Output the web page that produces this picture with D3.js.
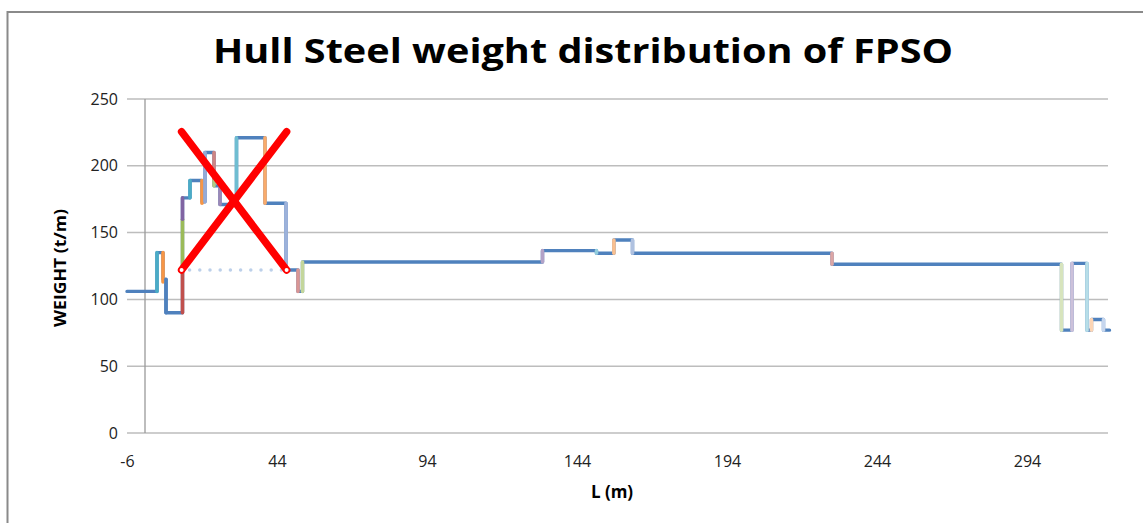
<!DOCTYPE html>
<html>
<head>
<meta charset="utf-8">
<script src="https://cdn.jsdelivr.net/npm/d3@7/dist/d3.min.js"></script>
<style>
  html, body { margin: 0; padding: 0; background: #fff; }
  svg { display: block; }
  text { font-family: "Open Sans", "DejaVu Sans", sans-serif; }
</style>
</head>
<body>
<svg id="chart" width="1143" height="523"></svg>
<script>
// Hull steel weight profile: breakpoints along the length (m) and the weight (t/m)
// that applies from each breakpoint up to the next one.
const stationL = [-6, 4, 6, 7, 12.5, 15, 19, 20, 23, 25, 30.5, 40, 47, 51, 52.5,
                  132.5, 150.5, 156.3, 162.5, 229, 305.5, 309, 314, 315.5, 319.5, 321.5];
const stationW = [106, 135, 115, 90, 176, 189, 173, 210, 185, 171, 221, 172, 122, 106, 128,
                  136.5, 134.5, 144.5, 134.5, 126.3, 77, 127, 77, 85, 77];

// Vertical jumps between blocks, each plotted as its own series
const riseL    = [4, 6, 7, 12.5, 12.5, 12.5, 15, 19, 20, 23, 23, 25, 30.5, 40, 47, 51, 52.5,
                  132.5, 150.5, 156.3, 162.5, 229, 305.5, 309, 314, 315.5, 319.5];
const riseFrom = [106, 135, 115, 90, 121, 160, 176, 189, 173, 210, 189, 185, 171, 221, 172, 122, 106,
                  128, 136.5, 134.5, 144.5, 134.5, 126.3, 77, 127, 77, 85];
const riseTo   = [135, 113, 90, 121, 160, 176, 189, 172, 210, 189, 185, 171, 221, 172, 122, 106, 128,
                  136.5, 134.5, 144.5, 134.5, 126.3, 77, 127, 77, 85, 77];

// Crossed-out bow section (L, W) and the dotted baseline under it
const crossA = [[12.2, 225.5], [47.2, 122]];
const crossB = [[47.2, 225.5], [12.2, 122]];
const baseLine = [[12.2, 122], [47.2, 122]];

const xTicks = [-6, 44, 94, 144, 194, 244, 294];
const yTicks = [0, 50, 100, 150, 200, 250];

const riseColors = ["#4BACC6", "#F79646", "#4F81BD", "#C0504D", "#9BBB59", "#8064A2",
                    "#4BACC6", "#F79646", "#95AAD6", "#CF8584", "#B2CA84", "#9C88B6",
                    "#6FBDD1", "#F9AB6B", "#9DB2DA", "#D99694", "#C3D69B",
                    "#B3A2C7", "#93CDDD", "#FAC090", "#AFC1E0", "#DCA6A5", "#D7E4BD",
                    "#CCC1DA", "#B7DEE8", "#FCD5B5", "#C6D6EE"];

const svg = d3.select("#chart");
const x = d3.scaleLinear().domain([-6, 321]).range([127, 1108]);
const y = d3.scaleLinear().domain([0, 250]).range([433, 99]);

// outer chart frame
svg.append("rect")
  .attr("x", 7.5).attr("y", 12).attr("width", 1200).attr("height", 600)
  .attr("fill", "none").attr("stroke", "#8a8a8a").attr("stroke-width", 2);

// title
svg.append("text")
  .attr("x", 213).attr("y", 63)
  .attr("textLength", 740).attr("lengthAdjust", "spacingAndGlyphs")
  .attr("font-size", 34).attr("font-weight", "bold").attr("fill", "#000")
  .text("Hull Steel weight distribution of FPSO");

// horizontal gridlines
svg.append("g").selectAll("line").data(yTicks).join("line")
  .attr("x1", x(-6)).attr("x2", x(321))
  .attr("y1", d => y(d)).attr("y2", d => y(d))
  .attr("stroke", "#bdbdbd").attr("stroke-width", 1.5);

// vertical axis line crossing at L = 0
svg.append("line")
  .attr("x1", x(0)).attr("x2", x(0)).attr("y1", y(250)).attr("y2", y(0))
  .attr("stroke", "#9a9a9a").attr("stroke-width", 1.3);

// axes
const yAxis = svg.append("g").attr("transform", `translate(${x(-6)},0)`)
  .call(d3.axisLeft(y).tickValues(yTicks).tickFormat(d => String(d)).tickSize(0).tickPadding(9));
const xAxis = svg.append("g").attr("transform", `translate(0,${y(0)})`)
  .call(d3.axisBottom(x).tickValues(xTicks).tickFormat(d => String(d)).tickSize(0).tickPadding(23));
[yAxis, xAxis].forEach(g => {
  g.select(".domain").remove();
  g.selectAll("text").attr("font-size", 16).attr("fill", "#222")
    .attr("font-family", "'Open Sans', sans-serif");
});

// axis titles
svg.append("text")
  .attr("transform", `translate(66,${(y(0) + y(250)) / 2 + 2}) rotate(-90)`)
  .attr("text-anchor", "middle").attr("font-size", 16).attr("font-weight", "bold")
  .attr("textLength", 118).attr("lengthAdjust", "spacingAndGlyphs")
  .attr("fill", "#000").text("WEIGHT (t/m)");
svg.append("text")
  .attr("x", 612).attr("y", 498)
  .attr("text-anchor", "middle").attr("font-size", 17).attr("font-weight", "bold")
  .attr("fill", "#000").text("L (m)");

// main step profile
const profile = stationW.map((w, i) => [stationL[i], w]);
profile.push([stationL[stationL.length - 1], stationW[stationW.length - 1]]);
svg.append("path")
  .attr("d", d3.line().x(d => x(d[0])).y(d => y(d[1])).curve(d3.curveStepAfter)(profile))
  .attr("fill", "none").attr("stroke", "#4F81BD").attr("stroke-width", 3.4)
  .attr("stroke-linejoin", "round").attr("stroke-linecap", "round");

// coloured jumps
svg.append("g").selectAll("line").data(riseL).join("line")
  .attr("x1", d => x(d)).attr("x2", d => x(d))
  .attr("y1", (d, i) => y(riseFrom[i])).attr("y2", (d, i) => y(riseTo[i]))
  .attr("stroke", (d, i) => riseColors[i % riseColors.length])
  .attr("stroke-width", 3.6).attr("stroke-linecap", "round");

// dotted baseline of the crossed-out section
svg.append("line")
  .attr("x1", x(baseLine[0][0]) + 8).attr("x2", x(baseLine[1][0]) - 4)
  .attr("y1", y(baseLine[0][1])).attr("y2", y(baseLine[1][1]))
  .attr("stroke", "#BCD0EA").attr("stroke-width", 3.5)
  .attr("stroke-linecap", "round").attr("stroke-dasharray", "0 10.2");

// red cross
const lineGen = d3.line().x(d => x(d[0])).y(d => y(d[1]));
[crossA, crossB].forEach(seg => {
  svg.append("path").attr("d", lineGen(seg))
    .attr("fill", "none").attr("stroke", "#FF0000").attr("stroke-width", 7.5)
    .attr("stroke-linecap", "round");
});
svg.append("g").selectAll("circle").data(baseLine).join("circle")
  .attr("cx", d => x(d[0])).attr("cy", d => y(d[1])).attr("r", 2.6)
  .attr("fill", "#fff").attr("stroke", "#FF0000").attr("stroke-width", 1.2);
</script>
</body>
</html>
